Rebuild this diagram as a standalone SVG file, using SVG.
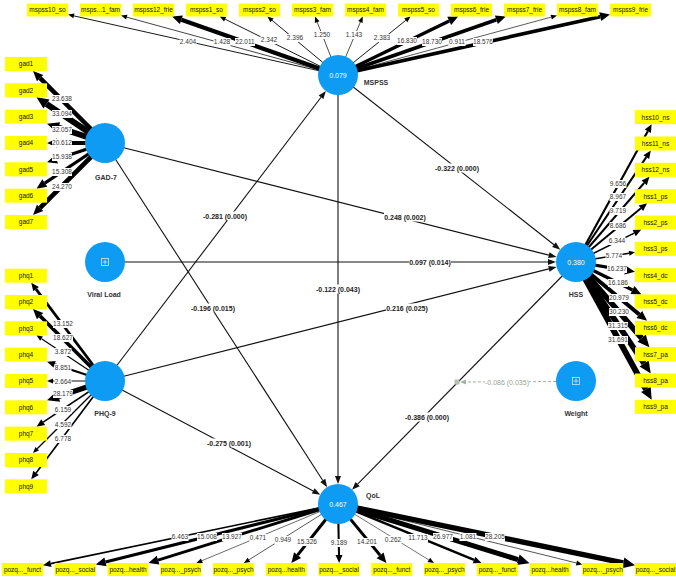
<svg xmlns="http://www.w3.org/2000/svg" width="676" height="578" viewBox="0 0 676 578">
<style>
text{font-family:"Liberation Sans",Arial,sans-serif;text-anchor:middle}
.box{fill:#ffff00}
.bt{font-size:6.5px;fill:#111}
.v{font-size:6.5px;fill:#333}
.p{font-size:7px;font-weight:bold;fill:#222}
.n{font-size:7px;font-weight:bold;fill:#333}
.r{font-size:7px;fill:#fff}
.bg{fill:#fff}
.ind line{stroke:#000}
.str line{stroke:#111;stroke-width:1.1}
.lv{fill:#0d9bf4}
</style>
<defs>
<marker id="aS" markerUnits="userSpaceOnUse" markerWidth="6" markerHeight="5" refX="0" refY="2.5" orient="auto" overflow="visible"><path d="M0,0 L6,2.5 L0,5z" fill="#000"/></marker>
<marker id="aM" markerUnits="userSpaceOnUse" markerWidth="8" markerHeight="7" refX="0" refY="3.5" orient="auto" overflow="visible"><path d="M0,0 L8,3.5 L0,7z" fill="#000"/></marker>
<marker id="aL" markerUnits="userSpaceOnUse" markerWidth="10" markerHeight="9" refX="0" refY="4.5" orient="auto" overflow="visible"><path d="M0,0 L10,4.5 L0,9z" fill="#000"/></marker>
<marker id="aX" markerUnits="userSpaceOnUse" markerWidth="12" markerHeight="11" refX="0" refY="5.5" orient="auto" overflow="visible"><path d="M0,0 L12,5.5 L0,11z" fill="#000"/></marker>
<marker id="aP" markerUnits="userSpaceOnUse" markerWidth="8" markerHeight="6" refX="0" refY="3" orient="auto" overflow="visible"><path d="M0,0 L8,3 L0,6z" fill="#111"/></marker>
<marker id="aG" markerUnits="userSpaceOnUse" markerWidth="6" markerHeight="5" refX="0" refY="2.5" orient="auto" overflow="visible"><path d="M0,0 L6,2.5 L0,5z" fill="#a3b3a3"/></marker>
</defs>
<rect width="676" height="578" fill="#fff"/>
<g id="connectors">
<g class="ind">
<line x1="338" y1="75" x2="73.9" y2="15.9" stroke-width="0.91" marker-end="url(#aS)"/>
<line x1="338" y1="75" x2="126.8" y2="17.2" stroke-width="0.74" marker-end="url(#aS)"/>
<line x1="338" y1="75" x2="181.4" y2="19.8" stroke-width="4.24" marker-end="url(#aL)"/>
<line x1="338" y1="75" x2="225.1" y2="19.2" stroke-width="0.9" marker-end="url(#aS)"/>
<line x1="338" y1="75" x2="272" y2="20.3" stroke-width="0.91" marker-end="url(#aS)"/>
<line x1="338" y1="75" x2="317.2" y2="22.1" stroke-width="0.71" marker-end="url(#aS)"/>
<line x1="338" y1="75" x2="360.4" y2="22" stroke-width="0.69" marker-end="url(#aS)"/>
<line x1="338" y1="75" x2="405.8" y2="20.3" stroke-width="0.91" marker-end="url(#aS)"/>
<line x1="338" y1="75" x2="449.2" y2="20.9" stroke-width="3.36" marker-end="url(#aL)"/>
<line x1="338" y1="75" x2="496.4" y2="19.8" stroke-width="3.68" marker-end="url(#aL)"/>
<line x1="338" y1="75" x2="551.2" y2="17.1" stroke-width="0.65" marker-end="url(#aS)"/>
<line x1="338" y1="75" x2="600.2" y2="16.7" stroke-width="3.66" marker-end="url(#aL)"/>

<line x1="105" y1="143" x2="40.1" y2="78.1" stroke-width="4.52" marker-end="url(#aL)"/>
<line x1="105" y1="143" x2="46.5" y2="104" stroke-width="6.13" marker-end="url(#aX)"/>
<line x1="105" y1="143" x2="58.4" y2="127.5" stroke-width="5.95" marker-end="url(#aX)"/>
<line x1="105" y1="143" x2="57" y2="143" stroke-width="4" marker-end="url(#aL)"/>
<line x1="105" y1="143" x2="56.5" y2="159.2" stroke-width="3.21" marker-end="url(#aL)"/>
<line x1="105" y1="143" x2="44.8" y2="183.1" stroke-width="3.1" marker-end="url(#aL)"/>
<line x1="105" y1="143" x2="40.1" y2="207.9" stroke-width="4.63" marker-end="url(#aL)"/>

<line x1="105" y1="381" x2="36.05" y2="289.07" stroke-width="2.74" marker-end="url(#aM)"/>
<line x1="105" y1="381" x2="40.07" y2="316.07" stroke-width="3.67" marker-end="url(#aL)"/>
<line x1="105" y1="381" x2="41.5" y2="338.66" stroke-width="1.16" marker-end="url(#aS)"/>
<line x1="105" y1="381" x2="54.6" y2="364.2" stroke-width="2" marker-end="url(#aM)"/>
<line x1="105" y1="381" x2="53" y2="381" stroke-width="0.95" marker-end="url(#aS)"/>
<line x1="105" y1="381" x2="58.4" y2="396.5" stroke-width="5.29" marker-end="url(#aX)"/>
<line x1="105" y1="381" x2="43.2" y2="422.2" stroke-width="1.55" marker-end="url(#aM)"/>
<line x1="105" y1="381" x2="37.2" y2="448.8" stroke-width="1.28" marker-end="url(#aS)"/>
<line x1="105" y1="381" x2="36.05" y2="472.93" stroke-width="1.65" marker-end="url(#aM)"/>

<line x1="576" y1="262" x2="647.8" y2="131.2" stroke-width="2.14" marker-end="url(#aM)"/>
<line x1="576" y1="262" x2="646.3" y2="157.1" stroke-width="2.02" marker-end="url(#aM)"/>
<line x1="576" y1="262" x2="644.2" y2="182.9" stroke-width="2.15" marker-end="url(#aM)"/>
<line x1="576" y1="262" x2="640.9" y2="208.3" stroke-width="1.98" marker-end="url(#aM)"/>
<line x1="576" y1="262" x2="634.2" y2="233.1" stroke-width="1.58" marker-end="url(#aM)"/>
<line x1="576" y1="262" x2="629.1" y2="253.2" stroke-width="1.48" marker-end="url(#aS)"/>
<line x1="576" y1="262" x2="625.1" y2="270.1" stroke-width="3.26" marker-end="url(#aL)"/>
<line x1="576" y1="262" x2="632.5" y2="290.05" stroke-width="3.25" marker-end="url(#aL)"/>
<line x1="576" y1="262" x2="639.35" y2="314.45" stroke-width="4.07" marker-end="url(#aL)"/>
<line x1="576" y1="262" x2="641.6" y2="338.1" stroke-width="5.64" marker-end="url(#aX)"/>
<line x1="576" y1="262" x2="644.1" y2="363.5" stroke-width="5.82" marker-end="url(#aX)"/>
<line x1="576" y1="262" x2="645.9" y2="389.3" stroke-width="5.89" marker-end="url(#aX)"/>

<line x1="338" y1="504" x2="50.8" y2="563.6" stroke-width="1.6" marker-end="url(#aM)"/>
<line x1="338" y1="504" x2="105.45" y2="561.97" stroke-width="3.05" marker-end="url(#aL)"/>
<line x1="338" y1="504" x2="158.05" y2="560.13" stroke-width="2.87" marker-end="url(#aL)"/>
<line x1="338" y1="504" x2="201.9" y2="560.7" stroke-width="0.58" marker-end="url(#aS)"/>
<line x1="338" y1="504" x2="248.96" y2="559.81" stroke-width="0.66" marker-end="url(#aS)"/>
<line x1="338" y1="504" x2="297.58" y2="555.16" stroke-width="3.11" marker-end="url(#aL)"/>
<line x1="338" y1="504" x2="339" y2="555" stroke-width="2.06" marker-end="url(#aM)"/>
<line x1="338" y1="504" x2="380.09" y2="555.28" stroke-width="2.91" marker-end="url(#aL)"/>
<line x1="338" y1="504" x2="428.82" y2="559.86" stroke-width="0.55" marker-end="url(#aS)"/>
<line x1="338" y1="504" x2="474.05" y2="559.96" stroke-width="2.49" marker-end="url(#aM)"/>
<line x1="338" y1="504" x2="518.04" y2="559.63" stroke-width="5.09" marker-end="url(#aX)"/>
<line x1="338" y1="504" x2="576.43" y2="562.99" stroke-width="0.68" marker-end="url(#aS)"/>
<line x1="338" y1="504" x2="623.25" y2="562.85" stroke-width="5.29" marker-end="url(#aX)"/>
</g>
<g class="str">
<line x1="105" y1="143" x2="548.85" y2="255.14" marker-end="url(#aP)"/>
<line x1="105" y1="143" x2="322.81" y2="480.48" marker-end="url(#aP)"/>
<line x1="105" y1="262" x2="548" y2="262" marker-end="url(#aP)"/>
<line x1="105" y1="381" x2="321.03" y2="97.27" marker-end="url(#aP)"/>
<line x1="105" y1="381" x2="548.85" y2="268.86" marker-end="url(#aP)"/>
<line x1="105" y1="381" x2="313.24" y2="490.93" marker-end="url(#aP)"/>
<line x1="338" y1="75" x2="553.98" y2="244.7" marker-end="url(#aP)"/>
<line x1="338" y1="75" x2="338" y2="476" marker-end="url(#aP)"/>
<line x1="576" y1="262" x2="357.63" y2="484.04" marker-end="url(#aP)"/>
</g>
<line x1="556" y1="381.5" x2="466" y2="382" stroke="#a3b3a3" stroke-width="1" stroke-dasharray="3,2" marker-end="url(#aG)"/>
<rect x="454.5" y="379.5" width="5" height="5" fill="#b3bfb3"/>

<g id="labels">
<rect class="bg" x="179.5" y="38" width="17" height="8"/><text class="v" x="188" y="44.3">2.404</text>
<rect class="bg" x="213.5" y="38" width="17" height="8"/><text class="v" x="222" y="44.3">1.428</text>
<rect class="bg" x="235" y="38" width="20" height="8"/><text class="v" x="245" y="44.3">22.011</text>
<rect class="bg" x="260.5" y="36" width="17" height="8"/><text class="v" x="269" y="42.3">2.342</text>
<rect class="bg" x="286.5" y="34" width="17" height="8"/><text class="v" x="295" y="40.3">2.396</text>
<rect class="bg" x="313.5" y="31" width="17" height="8"/><text class="v" x="322" y="37.3">1.250</text>
<rect class="bg" x="345.5" y="31" width="17" height="8"/><text class="v" x="354" y="37.3">1.143</text>
<rect class="bg" x="373.5" y="34" width="17" height="8"/><text class="v" x="382" y="40.3">2.383</text>
<rect class="bg" x="397" y="37" width="20" height="8"/><text class="v" x="407" y="43.3">16.830</text>
<rect class="bg" x="422" y="38" width="20" height="8"/><text class="v" x="432" y="44.3">18.730</text>
<rect class="bg" x="448.5" y="38" width="17" height="8"/><text class="v" x="457" y="44.3">0.911</text>
<rect class="bg" x="473" y="38" width="20" height="8"/><text class="v" x="483" y="44.3">18.576</text>

<rect class="bg" x="52" y="95" width="20" height="8"/><text class="v" x="62" y="101.3">23.638</text>
<rect class="bg" x="52" y="110" width="20" height="8"/><text class="v" x="62" y="116.3">33.094</text>
<rect class="bg" x="52" y="126" width="20" height="8"/><text class="v" x="62" y="132.3">32.057</text>
<rect class="bg" x="52" y="139" width="20" height="8"/><text class="v" x="62" y="145.3">20.612</text>
<rect class="bg" x="52" y="153" width="20" height="8"/><text class="v" x="62" y="159.3">15.938</text>
<rect class="bg" x="52" y="168" width="20" height="8"/><text class="v" x="62" y="174.3">15.308</text>
<rect class="bg" x="52" y="183" width="20" height="8"/><text class="v" x="62" y="189.3">24.270</text>

<rect class="bg" x="53" y="320" width="20" height="8"/><text class="v" x="63" y="326.3">13.152</text>
<rect class="bg" x="53" y="334" width="20" height="8"/><text class="v" x="63" y="340.3">18.627</text>
<rect class="bg" x="54.5" y="348" width="17" height="8"/><text class="v" x="63" y="354.3">3.872</text>
<rect class="bg" x="54.5" y="364" width="17" height="8"/><text class="v" x="63" y="370.3">8.851</text>
<rect class="bg" x="54.5" y="378" width="17" height="8"/><text class="v" x="63" y="384.3">2.664</text>
<rect class="bg" x="53" y="390" width="20" height="8"/><text class="v" x="63" y="396.3">28.179</text>
<rect class="bg" x="54.5" y="406" width="17" height="8"/><text class="v" x="63" y="412.3">6.159</text>
<rect class="bg" x="54.5" y="421" width="17" height="8"/><text class="v" x="63" y="427.3">4.592</text>
<rect class="bg" x="54.5" y="435" width="17" height="8"/><text class="v" x="63" y="441.3">6.778</text>

<rect class="bg" x="609.5" y="180" width="17" height="8"/><text class="v" x="618" y="186.3">9.656</text>
<rect class="bg" x="609.5" y="193" width="17" height="8"/><text class="v" x="618" y="199.3">8.967</text>
<rect class="bg" x="609.5" y="207" width="17" height="8"/><text class="v" x="618" y="213.3">9.719</text>
<rect class="bg" x="609.5" y="222" width="17" height="8"/><text class="v" x="618" y="228.3">8.686</text>
<rect class="bg" x="608.5" y="237" width="17" height="8"/><text class="v" x="617" y="243.3">6.344</text>
<rect class="bg" x="605.5" y="252" width="17" height="8"/><text class="v" x="614" y="258.3">5.774</text>
<rect class="bg" x="607" y="265" width="20" height="8"/><text class="v" x="617" y="271.3">16.237</text>
<rect class="bg" x="608" y="279" width="20" height="8"/><text class="v" x="618" y="285.3">16.186</text>
<rect class="bg" x="609" y="294" width="20" height="8"/><text class="v" x="619" y="300.3">20.979</text>
<rect class="bg" x="609" y="308" width="20" height="8"/><text class="v" x="619" y="314.3">30.230</text>
<rect class="bg" x="608" y="322" width="20" height="8"/><text class="v" x="618" y="328.3">31.315</text>
<rect class="bg" x="608" y="336" width="20" height="8"/><text class="v" x="618" y="342.3">31.691</text>

<rect class="bg" x="171.5" y="533" width="17" height="8"/><text class="v" x="180" y="539.3">6.463</text>
<rect class="bg" x="197" y="533" width="20" height="8"/><text class="v" x="207" y="539.3">15.008</text>
<rect class="bg" x="222" y="533" width="20" height="8"/><text class="v" x="232" y="539.3">13.927</text>
<rect class="bg" x="249.5" y="534" width="17" height="8"/><text class="v" x="258" y="540.3">0.471</text>
<rect class="bg" x="274.5" y="536" width="17" height="8"/><text class="v" x="283" y="542.3">0.949</text>
<rect class="bg" x="297" y="538" width="20" height="8"/><text class="v" x="307" y="544.3">15.326</text>
<rect class="bg" x="330.5" y="539" width="17" height="8"/><text class="v" x="339" y="545.3">9.189</text>
<rect class="bg" x="357" y="538" width="20" height="8"/><text class="v" x="367" y="544.3">14.201</text>
<rect class="bg" x="384.5" y="536" width="17" height="8"/><text class="v" x="393" y="542.3">0.262</text>
<rect class="bg" x="408" y="534" width="20" height="8"/><text class="v" x="418" y="540.3">11.713</text>
<rect class="bg" x="433" y="533" width="20" height="8"/><text class="v" x="443" y="539.3">26.977</text>
<rect class="bg" x="459.5" y="533" width="17" height="8"/><text class="v" x="468" y="539.3">1.081</text>
<rect class="bg" x="485" y="533" width="20" height="8"/><text class="v" x="495" y="539.3">28.205</text>

<rect class="bg" x="384" y="212.5" width="42" height="9"/><text class="p" x="405" y="219.5">0.248 (0.002)</text>
<rect class="bg" x="191" y="303.5" width="44" height="9"/><text class="p" x="213" y="310.5">-0.196 (0.015)</text>
<rect class="bg" x="409" y="257.5" width="42" height="9"/><text class="p" x="430" y="264.5">0.097 (0.014)</text>
<rect class="bg" x="203" y="211.5" width="44" height="9"/><text class="p" x="225" y="218.5">-0.281 (0.000)</text>
<rect class="bg" x="386" y="303.5" width="42" height="9"/><text class="p" x="407" y="310.5">0.216 (0.025)</text>
<rect class="bg" x="207" y="438.5" width="44" height="9"/><text class="p" x="229" y="445.5">-0.275 (0.001)</text>
<rect class="bg" x="435" y="163.5" width="44" height="9"/><text class="p" x="457" y="170.5">-0.322 (0.000)</text>
<rect class="bg" x="316" y="284.5" width="44" height="9"/><text class="p" x="338" y="291.5">-0.122 (0.043)</text>
<rect class="bg" x="405" y="412.5" width="44" height="9"/><text class="p" x="427" y="419.5">-0.386 (0.000)</text>
<rect class="bg" x="485" y="377.5" width="44" height="9"/><text x="507" y="384.5" font-size="7" fill="#93a693">-0.086 (0.035)</text>
</g>
</g>

<g id="MSPSS"><circle class="lv" cx="338" cy="75" r="20"/><text class="r" x="338" y="77.5">0.079</text><text class="n" x="376" y="84.5">MSPSS</text></g>
<g id="GAD-7"><circle class="lv" cx="105" cy="143" r="20"/><text class="n" x="106" y="179.5">GAD-7</text></g>
<g id="ViralLoad"><circle class="lv" cx="105" cy="262" r="20"/><rect x="101.5" y="258.5" width="7" height="7" fill="none" stroke="#cfe8ff" stroke-width="0.8"/><path d="M105,259.8 V264.2 M102.8,262 H107.2" stroke="#cfe8ff" stroke-width="0.8"/><text class="n" x="104" y="296.5">Viral Load</text></g>
<g id="PHQ-9"><circle class="lv" cx="105" cy="381" r="20"/><text class="n" x="105" y="415.5">PHQ-9</text></g>
<g id="HSS"><circle class="lv" cx="576" cy="262" r="20"/><text class="r" x="576" y="264.5">0.380</text><text class="n" x="576" y="296.5">HSS</text></g>
<g id="Weight"><circle class="lv" cx="576" cy="381" r="20"/><rect x="572.5" y="377.5" width="7" height="7" fill="none" stroke="#cfe8ff" stroke-width="0.8"/><path d="M576,378.8 V383.2 M573.8,381 H578.2" stroke="#cfe8ff" stroke-width="0.8"/><text class="n" x="576" y="415.5">Weight</text></g>
<g id="QoL"><circle class="lv" cx="338" cy="504" r="20"/><text class="r" x="338" y="506.5">0.467</text><text class="n" x="373" y="497.5">QoL</text></g>

<g id="mspss-indicators">
<rect class="box" x="27" y="3.5" width="41" height="13"/><text class="bt" x="47.5" y="12.3">mspss10_so</text>
<rect class="box" x="80" y="3.5" width="41" height="13"/><text class="bt" x="100.5" y="12.3">msps...1_fam</text>
<rect class="box" x="133" y="3.5" width="41" height="13"/><text class="bt" x="153.5" y="12.3">mspss12_frie</text>
<rect class="box" x="186" y="3.5" width="41" height="13"/><text class="bt" x="206.5" y="12.3">mspss1_so</text>
<rect class="box" x="239" y="3.5" width="41" height="13"/><text class="bt" x="259.5" y="12.3">mspss2_so</text>
<rect class="box" x="292" y="3.5" width="41" height="13"/><text class="bt" x="312.5" y="12.3">mspss3_fam</text>
<rect class="box" x="345" y="3.5" width="41" height="13"/><text class="bt" x="365.5" y="12.3">mspss4_fam</text>
<rect class="box" x="398" y="3.5" width="41" height="13"/><text class="bt" x="418.5" y="12.3">mspss5_so</text>
<rect class="box" x="451" y="3.5" width="41" height="13"/><text class="bt" x="471.5" y="12.3">mspss6_frie</text>
<rect class="box" x="504" y="3.5" width="41" height="13"/><text class="bt" x="524.5" y="12.3">mspss7_frie</text>
<rect class="box" x="557" y="3.5" width="41" height="13"/><text class="bt" x="577.5" y="12.3">mspss8_fam</text>
<rect class="box" x="610" y="3.5" width="41" height="13"/><text class="bt" x="630.5" y="12.3">mspss9_frie</text>
</g>
<g id="gad-indicators">
<rect class="box" x="5" y="57" width="42" height="14"/><text class="bt" x="26" y="66.3">gad1</text>
<rect class="box" x="5" y="83.33" width="42" height="14"/><text class="bt" x="26" y="92.6">gad2</text>
<rect class="box" x="5" y="109.67" width="42" height="14"/><text class="bt" x="26" y="119">gad3</text>
<rect class="box" x="5" y="136" width="42" height="14"/><text class="bt" x="26" y="145.3">gad4</text>
<rect class="box" x="5" y="162.33" width="42" height="14"/><text class="bt" x="26" y="171.6">gad5</text>
<rect class="box" x="5" y="188.67" width="42" height="14"/><text class="bt" x="26" y="198">gad6</text>
<rect class="box" x="5" y="215" width="42" height="14"/><text class="bt" x="26" y="224.3">gad7</text>
</g>
<g id="phq-indicators">
<rect class="box" x="5" y="268.67" width="42" height="14"/><text class="bt" x="26" y="278">phq1</text>
<rect class="box" x="5" y="295" width="42" height="14"/><text class="bt" x="26" y="304.3">phq2</text>
<rect class="box" x="5" y="321.33" width="42" height="14"/><text class="bt" x="26" y="330.6">phq3</text>
<rect class="box" x="5" y="347.67" width="42" height="14"/><text class="bt" x="26" y="357">phq4</text>
<rect class="box" x="5" y="374" width="42" height="14"/><text class="bt" x="26" y="383.3">phq5</text>
<rect class="box" x="5" y="400.33" width="42" height="14"/><text class="bt" x="26" y="409.6">phq6</text>
<rect class="box" x="5" y="426.67" width="42" height="14"/><text class="bt" x="26" y="436">phq7</text>
<rect class="box" x="5" y="453" width="42" height="14"/><text class="bt" x="26" y="462.3">phq8</text>
<rect class="box" x="5" y="479.33" width="42" height="14"/><text class="bt" x="26" y="488.6">phq9</text>
</g>
<g id="hss-indicators">
<rect class="box" x="635" y="110.17" width="41" height="14"/><text class="bt" x="655.5" y="119.5">hss10_ns</text>
<rect class="box" x="635" y="136.5" width="41" height="14"/><text class="bt" x="655.5" y="145.8">hss11_ns</text>
<rect class="box" x="635" y="162.83" width="41" height="14"/><text class="bt" x="655.5" y="172.1">hss12_ns</text>
<rect class="box" x="635" y="189.17" width="41" height="14"/><text class="bt" x="655.5" y="198.5">hss1_ps</text>
<rect class="box" x="635" y="215.5" width="41" height="14"/><text class="bt" x="655.5" y="224.8">hss2_ps</text>
<rect class="box" x="635" y="241.83" width="41" height="14"/><text class="bt" x="655.5" y="251.1">hss3_ps</text>
<rect class="box" x="635" y="268.17" width="41" height="14"/><text class="bt" x="655.5" y="277.5">hss4_dc</text>
<rect class="box" x="635" y="294.5" width="41" height="14"/><text class="bt" x="655.5" y="303.8">hss5_dc</text>
<rect class="box" x="635" y="320.83" width="41" height="14"/><text class="bt" x="655.5" y="330.1">hss6_dc</text>
<rect class="box" x="635" y="347.17" width="41" height="14"/><text class="bt" x="655.5" y="356.5">hss7_pa</text>
<rect class="box" x="635" y="373.5" width="41" height="14"/><text class="bt" x="655.5" y="382.8">hss8_pa</text>
<rect class="box" x="635" y="399.83" width="41" height="14"/><text class="bt" x="655.5" y="409.1">hss9_pa</text>
</g>
<g id="qol-indicators">
<rect class="box" x="2" y="563" width="41" height="13"/><text class="bt" x="22.5" y="571.8">pozq..._funct</text>
<rect class="box" x="54.75" y="563" width="41" height="13"/><text class="bt" x="75.25" y="571.8">pozq..._social</text>
<rect class="box" x="107.5" y="563" width="41" height="13"/><text class="bt" x="128" y="571.8">pozq...health</text>
<rect class="box" x="160.25" y="563" width="41" height="13"/><text class="bt" x="180.75" y="571.8">pozq..._psych</text>
<rect class="box" x="213" y="563" width="41" height="13"/><text class="bt" x="233.5" y="571.8">pozq..._psych</text>
<rect class="box" x="265.75" y="563" width="41" height="13"/><text class="bt" x="286.25" y="571.8">pozq...health</text>
<rect class="box" x="318.5" y="563" width="41" height="13"/><text class="bt" x="339" y="571.8">pozq..._social</text>
<rect class="box" x="371.25" y="563" width="41" height="13"/><text class="bt" x="391.75" y="571.8">pozq..._funct</text>
<rect class="box" x="424" y="563" width="41" height="13"/><text class="bt" x="444.5" y="571.8">pozq..._psych</text>
<rect class="box" x="476.75" y="563" width="41" height="13"/><text class="bt" x="497.25" y="571.8">pozq..._funct</text>
<rect class="box" x="529.5" y="563" width="41" height="13"/><text class="bt" x="550" y="571.8">pozq...health</text>
<rect class="box" x="582.25" y="563" width="41" height="13"/><text class="bt" x="602.75" y="571.8">pozq..._psych</text>
<rect class="box" x="635" y="563" width="41" height="13"/><text class="bt" x="655.5" y="571.8">pozq..._social</text>
</g>
</svg>
